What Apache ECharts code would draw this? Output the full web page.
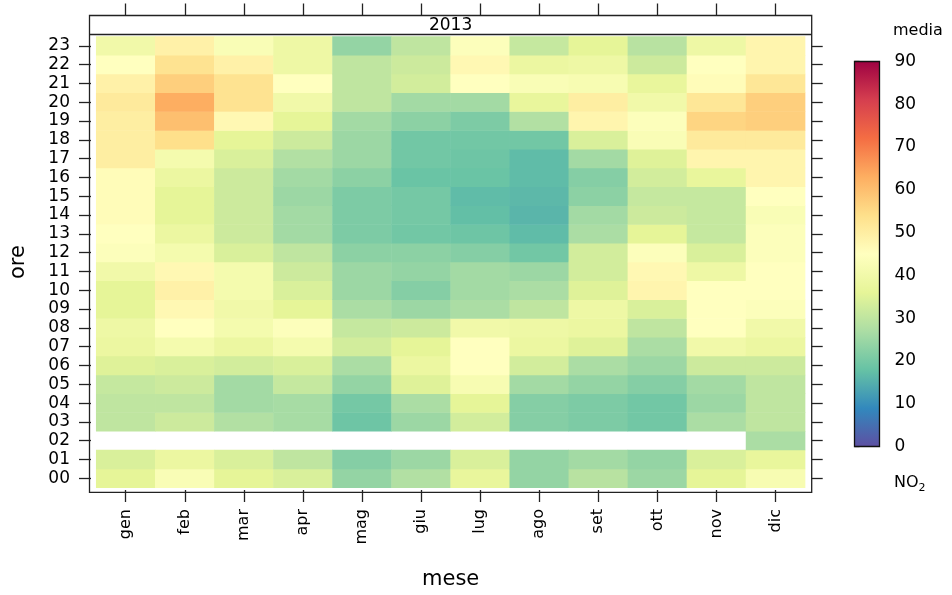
<!DOCTYPE html>
<html>
<head>
<meta charset="utf-8">
<script src="https://cdn.jsdelivr.net/npm/echarts@6/dist/echarts.min.js"></script>
<style>
  html, body { margin: 0; padding: 0; background: #fff; }
  #chart { width: 952px; height: 595px; }
</style>
</head>
<body>
<div id="chart"></div>
<script>
// Month labels (Italian) and hours of day
const months = ['gen', 'feb', 'mar', 'apr', 'mag', 'giu', 'lug', 'ago', 'set', 'ott', 'nov', 'dic'];
const hours = ['00', '01', '02', '03', '04', '05', '06', '07', '08', '09', '10', '11',
               '12', '13', '14', '15', '16', '17', '18', '19', '20', '21', '22', '23'];

// Mean NO2 by hour (00 -> 23) for each month of 2013; null = no data
const gen = [36, 34, null, 30, 30, 31, 35, 38, 39, 36, 36, 40, 44, 45, 46, 46, 46, 50, 50, 50, 51, 49, 45, 40];
const feb = [43, 38, null, 32, 30, 32, 34, 41, 45, 47, 49, 47, 41, 38, 36, 36, 38, 41, 54, 60, 63, 57, 53, 49];
const mar = [36, 34, null, 28, 26, 26, 33, 38, 41, 40, 41, 41, 34, 32, 32, 32, 32, 34, 36, 47, 53, 53, 49, 43];
const apr = [34, 30, null, 26.5, 26.5, 31, 34, 41, 44, 36, 34, 32, 30, 26, 26, 25, 26, 28, 32, 36, 40, 45, 39, 39];
const mag = [24, 22, null, 19, 20, 24, 27, 33, 31, 27, 25, 25, 23, 21, 21, 21, 23, 25, 25, 26, 30, 30, 30, 24];
const giu = [28, 25, null, 25, 27, 35, 38, 36, 32, 25, 22, 24, 23, 19.5, 20, 20, 18.5, 19.5, 19.5, 23, 26, 33, 32, 30];
const lug = [37, 34, null, 33, 36, 42, 45, 45, 40, 27, 26, 26, 22, 19, 17.5, 17, 18.5, 19, 19.5, 21, 26, 45, 47, 44];
const ago = [24, 24, null, 22, 22, 26, 33, 38, 39, 30, 27, 25, 19.5, 17, 16, 16.5, 17, 17, 19.5, 28, 37, 43, 38, 31];
const set = [29, 26, null, 21, 21, 24, 27, 35, 38, 39, 35, 33, 33, 27, 26, 23, 22, 26, 34, 48, 50, 42, 39, 36];
const ott = [25, 24, null, 19.5, 19.5, 22, 25, 27, 30, 34, 48, 47, 44, 36, 32, 31, 33, 35, 43, 44, 40, 37, 32, 29];
const nov = [36, 34, null, 27, 25, 26, 32, 40, 45, 45, 45, 39, 34, 31, 31, 31, 37, 48, 51, 56, 52, 46, 45, 39];
const dic = [42, 37, 27, 30, 30, 30, 32, 38, 40, 44, 45, 45, 44, 44, 43, 45, 48, 48, 51, 57, 57, 52, 48, 48];

const byMonth = [gen, feb, mar, apr, mag, giu, lug, ago, set, ott, nov, dic];

// Colour scale limits and colourbar ticks
const scaleMin = 0;
const scaleMax = 90;
const scaleTicks = [0, 10, 20, 30, 40, 50, 60, 70, 80, 90];
const panelTitle = '2013';

// Reversed Spectral palette (low -> high)
const palette = ['#5E4FA2', '#3288BD', '#66C2A5', '#ABDDA4', '#E6F598', '#FFFFBF',
                 '#FEE08B', '#FDAE61', '#F46D43', '#D53E4F', '#9E0142'];

const cells = [];
byMonth.forEach((vals, m) => {
  vals.forEach((v, h) => {
    if (v !== null) cells.push([m, h, v]);
  });
});

const FONT = "'DejaVu Sans', sans-serif";
const INK = '#000';

const chart = echarts.init(document.getElementById('chart'), null, { renderer: 'canvas' });

// panel geometry
const P = { left: 94.7, top: 36.4, right: 805.1, bottom: 490 };
const FRAME = { x: 89.5, y: 15.5, x2: 811.7, y2: 492.3, strip: 34.5 };
const BAR = { x: 854.5, y: 61.5, w: 25, h: 385 };

const tickStyle = { color: '#222', width: 1.3 };

const option = {
  animation: false,
  backgroundColor: '#fff',
  textStyle: { fontFamily: FONT, color: INK },
  grid: [
    { left: P.left, top: P.top, width: P.right - P.left, height: P.bottom - P.top, containLabel: false },
    { left: BAR.x, top: BAR.y, width: BAR.w, height: BAR.h, containLabel: false }
  ],
  visualMap: {
    type: 'continuous',
    show: false,
    min: scaleMin,
    max: scaleMax,
    dimension: 2,
    seriesIndex: 0,
    inRange: { color: palette }
  },
  xAxis: [
    {
      type: 'category', data: months, gridIndex: 0, position: 'bottom', offset: FRAME.y2 - P.bottom,
      boundaryGap: true,
      axisLine: { show: false },
      axisTick: { show: true, alignWithLabel: true, interval: 0, length: 12, lineStyle: tickStyle },
      axisLabel: { rotate: 90, interval: 0, margin: 19, fontSize: 16, color: INK, fontFamily: FONT },
      splitLine: { show: false },
      name: 'mese', nameLocation: 'middle', nameGap: 79,
      nameTextStyle: { fontSize: 21, color: INK, fontFamily: FONT }
    },
    {
      type: 'category', data: months, gridIndex: 0, position: 'top', offset: P.top - FRAME.y,
      boundaryGap: true,
      axisLine: { show: false },
      axisTick: { show: true, alignWithLabel: true, interval: 0, length: 12, lineStyle: tickStyle },
      axisLabel: { show: false },
      splitLine: { show: false }
    },
    {
      type: 'value', gridIndex: 1, show: false, min: 0, max: 1
    }
  ],
  yAxis: [
    {
      type: 'category', data: hours, gridIndex: 0, position: 'left', offset: P.left - FRAME.x,
      boundaryGap: true,
      axisLine: { show: false },
      axisTick: { show: true, alignWithLabel: true, interval: 0, length: 12, lineStyle: tickStyle },
      axisLabel: { interval: 0, margin: 21, fontSize: 17, color: INK, fontFamily: FONT },
      splitLine: { show: false },
      name: 'ore', nameLocation: 'middle', nameGap: 62, nameRotate: 90,
      nameTextStyle: { fontSize: 21, color: INK, fontFamily: FONT }
    },
    {
      type: 'category', data: hours, gridIndex: 0, position: 'right', offset: FRAME.x2 - P.right,
      boundaryGap: true,
      axisLine: { show: false },
      axisTick: { show: true, alignWithLabel: true, interval: 0, length: 11, lineStyle: tickStyle },
      axisLabel: { show: false },
      splitLine: { show: false }
    },
    {
      type: 'value', gridIndex: 1, position: 'right', min: scaleMin, max: scaleMax, interval: 10,
      axisLine: { show: false },
      axisTick: { show: true, length: 5, lineStyle: tickStyle },
      axisLabel: {
        margin: 15, fontSize: 17, color: INK, fontFamily: FONT,
        customValues: scaleTicks
      },
      splitLine: { show: false }
    }
  ],
  series: [
    {
      type: 'heatmap',
      xAxisIndex: 0,
      yAxisIndex: 0,
      data: cells,
      itemStyle: { borderWidth: 0 },
      emphasis: { disabled: true },
      progressive: 0
    }
  ],
  graphic: [
    // colourbar fill
    {
      type: 'rect', z: 5,
      shape: { x: BAR.x, y: BAR.y, width: BAR.w, height: BAR.h },
      style: {
        fill: new echarts.graphic.LinearGradient(0, 0, 0, 1,
          palette.slice().reverse().map((c, i, a) => ({ offset: i / (a.length - 1), color: c }))),
        stroke: '#111', lineWidth: 1.3
      }
    },
    // panel frame
    {
      type: 'rect', z: 10,
      shape: { x: FRAME.x, y: FRAME.y, width: FRAME.x2 - FRAME.x, height: FRAME.y2 - FRAME.y },
      style: { fill: null, stroke: '#222', lineWidth: 1.3 }
    },
    // strip separator
    {
      type: 'line', z: 10,
      shape: { x1: FRAME.x, y1: FRAME.strip, x2: FRAME.x2, y2: FRAME.strip },
      style: { stroke: '#222', lineWidth: 1.3 }
    },
    {
      type: 'text', z: 11,
      style: {
        text: panelTitle, x: (FRAME.x + FRAME.x2) / 2, y: (FRAME.y + FRAME.strip) / 2 + 0.5,
        align: 'center', verticalAlign: 'middle',
        font: '17px ' + FONT, fill: INK
      }
    },
    {
      type: 'text', z: 11,
      style: {
        text: 'media', x: 893, y: 31, align: 'left', verticalAlign: 'middle',
        font: '16px ' + FONT, fill: INK
      }
    },
    {
      type: 'text', z: 11,
      style: {
        text: '{n|NO}{s|2}', x: 894, y: 483, align: 'left', verticalAlign: 'middle',
        rich: {
          n: { fontSize: 16, fontFamily: FONT, fill: INK, color: INK },
          s: { fontSize: 11, fontFamily: FONT, fill: INK, color: INK, padding: [10, 0, 0, 0] }
        }
      }
    }
  ]
};

chart.setOption(option);
</script>
</body>
</html>
